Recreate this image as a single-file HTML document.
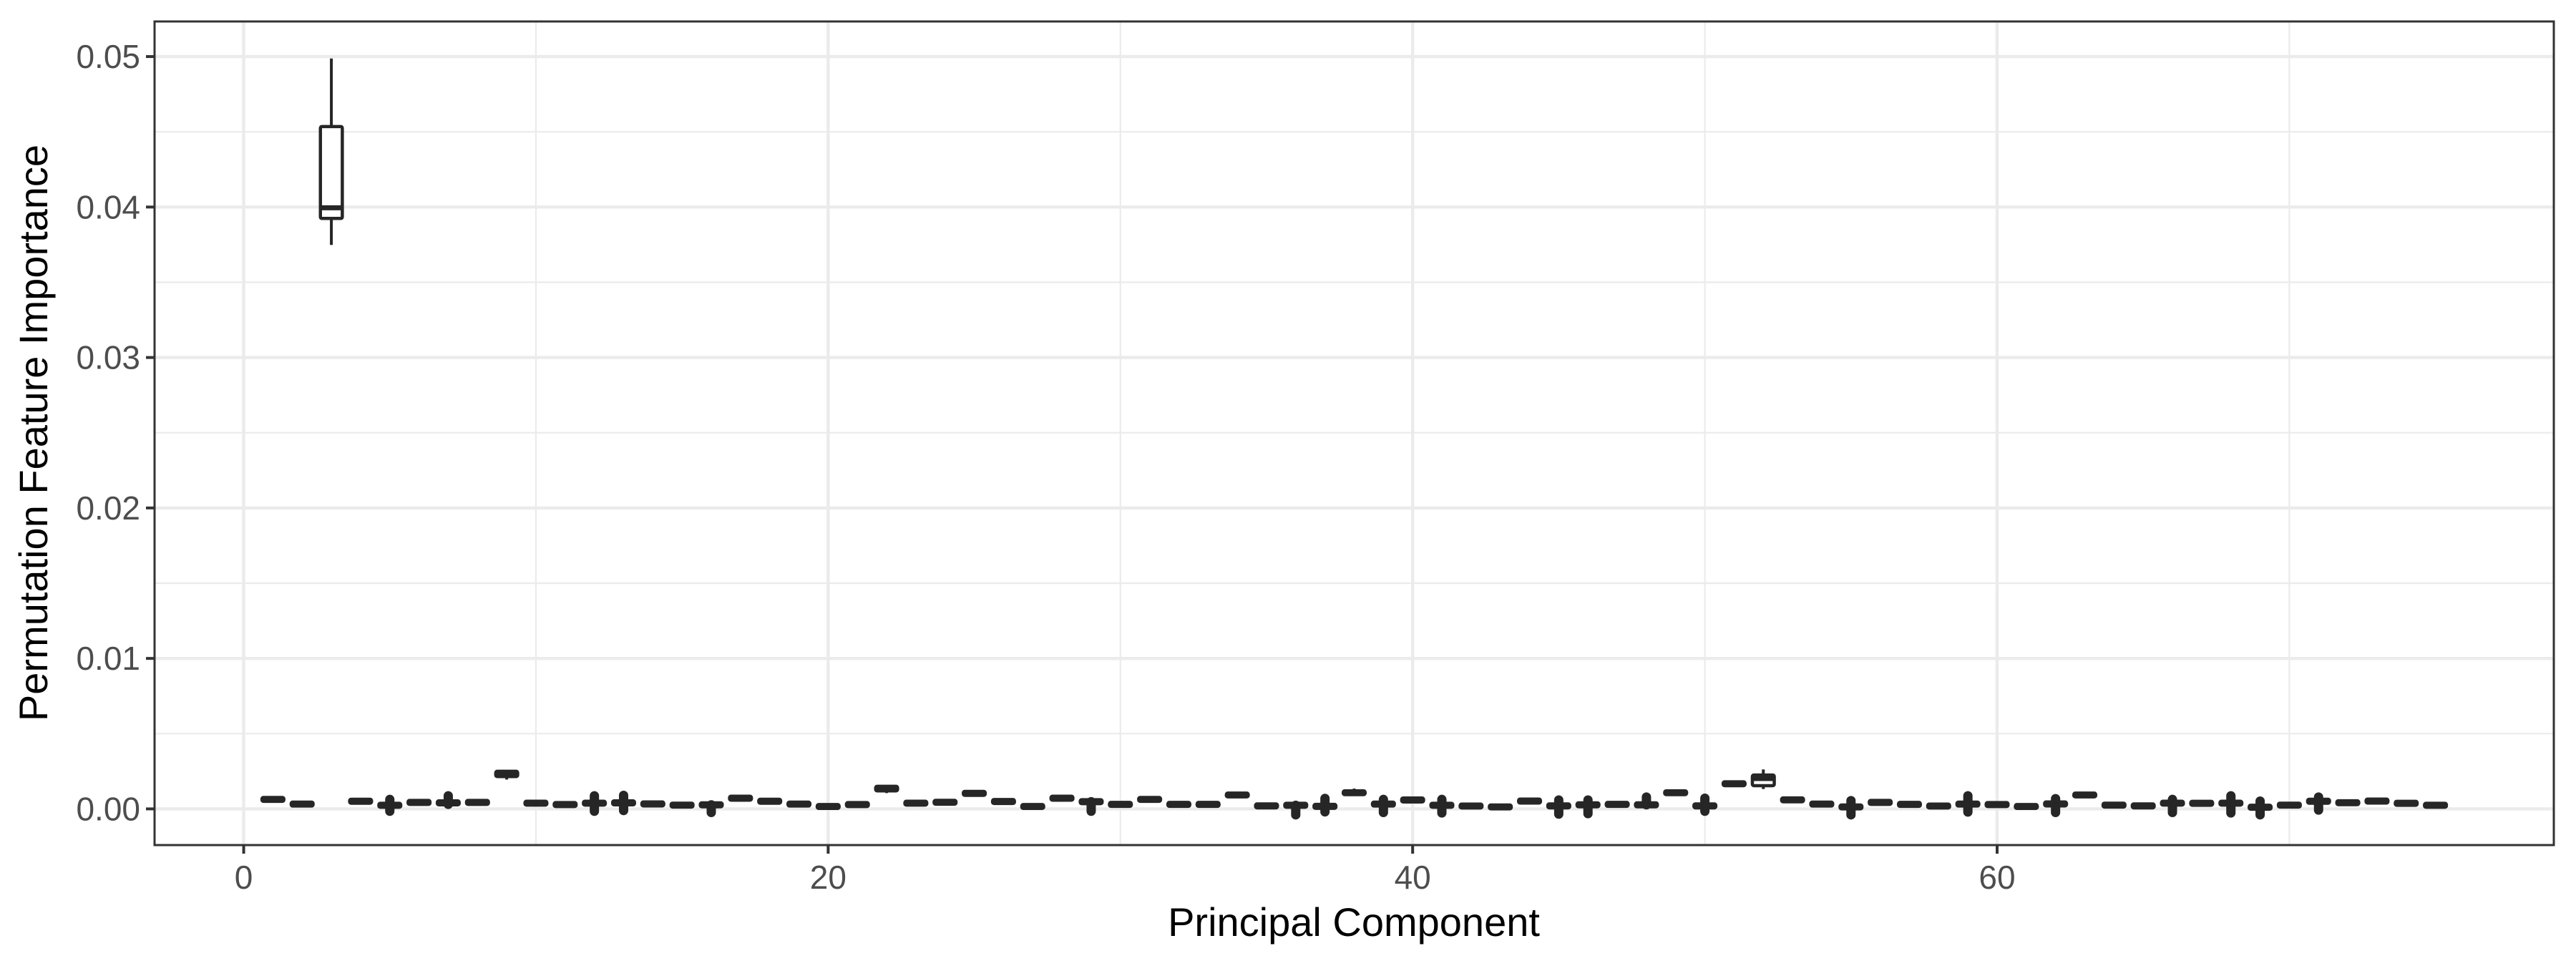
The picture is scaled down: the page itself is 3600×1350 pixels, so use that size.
<!DOCTYPE html>
<html><head><meta charset="utf-8"><style>
html,body{margin:0;padding:0;background:#fff}
svg{display:block}
text{font-family:"Liberation Sans",Arial,sans-serif}
</style></head><body>
<svg id="chart" width="3600" height="1350" viewBox="0 0 3600 1350" xmlns="http://www.w3.org/2000/svg">
<rect x="0" y="0" width="3600" height="1350" fill="#fff"/>
<g id="grid"></g>
<g id="marks"></g>
<rect x="216" y="30" width="3353" height="1151" fill="none" stroke="#333" stroke-width="3"/>
<g id="axes"></g>
<text x="1892" y="1308" font-size="56" text-anchor="middle" fill="#000">Principal Component</text>
<text transform="translate(66,605) rotate(-90)" font-size="56" text-anchor="middle" fill="#000">Permutation Feature Importance</text>
</svg>
<script>
// Medians for components 1..75 (component 3 handled by its own quartiles)
const medians = [0.00063,0.00032,0.03995,0.00051,0.00024,0.00043,0.00040,0.00043,0.00235,0.00038,
0.00029,0.00038,0.00040,0.00033,0.00025,0.00027,0.00071,0.00051,0.00032,0.00016,
0.00029,0.00133,0.00038,0.00044,0.00103,0.00049,0.00016,0.00071,0.00048,0.00030,
0.00063,0.00030,0.00030,0.00092,0.00020,0.00024,0.00017,0.00103,0.00032,0.00059,
0.00024,0.00019,0.00013,0.00052,0.00020,0.00027,0.00030,0.00027,0.00108,0.00020,
0.00167,0.00202,0.00060,0.00032,0.00013,0.00043,0.00030,0.00019,0.00032,0.00029,
0.00016,0.00033,0.00094,0.00025,0.00020,0.00038,0.00037,0.00038,0.00011,0.00025,
0.00051,0.00041,0.00052,0.00037,0.00024];
// Quartile overrides for larger boxes: [component, q1, q3, whiskerLow, whiskerHigh]
const bigBoxes = [[3,0.03924,0.04535,0.03748,0.04987],[52,0.00154,0.00225,0.00132,0.00262],[9,0.00215,0.00250,0.00195,0.00250],[22,0.00120,0.00150,0.00105,0.00150],[34,0.00080,0.00105,0.00075,0.00105],[38,0.00095,0.00120,0.00095,0.00135],[49,0.00095,0.00120,0.00090,0.00120],[63,0.00080,0.00105,0.00080,0.00105]];
// Point spreads (outliers) for components: [component, low, high]
const spreads = [[5,-0.00016,0.00063],[7,0.00030,0.00087],[12,-0.00016,0.00087],[13,-0.00011,0.00090],[16,-0.00024,0.00027],[29,-0.00016,0.00048],[36,-0.00040,0.00024],[37,-0.00020,0.00070],[39,-0.00024,0.00063],[41,-0.00027,0.00063],[45,-0.00035,0.00059],[46,-0.00032,0.00059],[48,0.00027,0.00079],[50,-0.00016,0.00071],[55,-0.00040,0.00055],[59,-0.00021,0.00087],[62,-0.00024,0.00068],[66,-0.00024,0.00063],[68,-0.00027,0.00087],[69,-0.00040,0.00052],[71,-0.00008,0.00079]];
const xTicks = [0,20,40,60];
const xTickLabels = ["0","20","40","60"];
const yTicks = [0,0.01,0.02,0.03,0.04,0.05];
const yTickLabels = ["0.00","0.01","0.02","0.03","0.04","0.05"];

const NS="http://www.w3.org/2000/svg";
const X0=216,X1=3569,Y0=30,Y1=1181;
const xMin=-3.05,xMax=79.05,yMin=-0.002405,yMax=0.052333;
function xs(v){return X0+(v-xMin)/(xMax-xMin)*(X1-X0);}
function ys(v){return Y1-(v-yMin)/(yMax-yMin)*(Y1-Y0);}
function mk(tag,attrs,parent){const e=document.createElementNS(NS,tag);for(const k in attrs)e.setAttribute(k,attrs[k]);parent.appendChild(e);return e;}
const grid=document.getElementById('grid'),marks=document.getElementById('marks'),axes=document.getElementById('axes');
// minor grid
for(let i=0;i<yTicks.length;i++){const v=yTicks[i]+0.005;if(v<yMax){const l=mk('line',{x1:X0,x2:X1,y1:ys(v),y2:ys(v),stroke:'#ebebeb','stroke-width':2.2},grid);

}}
for(let i=0;i<xTicks.length;i++){const v=xTicks[i]+10;if(v<xMax){const l=mk('line',{x1:xs(v),x2:xs(v),y1:Y0,y2:Y1,stroke:'#ebebeb','stroke-width':2.2},grid);

}}
// major grid + ticks + labels
yTicks.forEach((v,i)=>{const y=ys(v);
const g=mk('line',{x1:X0,x2:X1,y1:y,y2:y,stroke:'#ebebeb','stroke-width':4.4},grid);


const t=mk('line',{x1:X0-12,x2:X0,y1:y,y2:y,stroke:'#333','stroke-width':4},axes);


const tx=mk('text',{x:X0-20,y:y+16,'font-size':46,'text-anchor':'end',fill:'#4d4d4d'},axes);tx.textContent=yTickLabels[i];

});
xTicks.forEach((v,i)=>{const x=xs(v);
const g=mk('line',{x1:x,x2:x,y1:Y0,y2:Y1,stroke:'#ebebeb','stroke-width':4.4},grid);


const t=mk('line',{x1:x,x2:x,y1:Y1,y2:Y1+12,stroke:'#333','stroke-width':4},axes);


const tx=mk('text',{x:x,y:1242,'font-size':46,'text-anchor':'middle',fill:'#4d4d4d'},axes);tx.textContent=xTickLabels[i];

});
// boxes
const half=15.3;
medians.forEach((m,i)=>{const c=i+1;const x=xs(c);
let q1=m-0.00013,q3=m+0.00013,wl=q1,wh=q3;
const b=bigBoxes.find(r=>r[0]===c);if(b){q1=b[1];q3=b[2];wl=b[3];wh=b[4];}
const g=mk('g',{},marks);


const s=spreads.find(r=>r[0]===c);
if(s){const p=mk('line',{x1:x,x2:x,y1:ys(s[1]),y2:ys(s[2]),stroke:'#262626','stroke-width':13,'stroke-linecap':'round'},g);

}
if(wh>q3){const w=mk('line',{x1:x,x2:x,y1:ys(q3),y2:ys(wh),stroke:'#262626','stroke-width':4},g);

}
if(wl<q1){const w=mk('line',{x1:x,x2:x,y1:ys(q1),y2:ys(wl),stroke:'#262626','stroke-width':4},g);

}
const r=mk('rect',{x:x-half,y:ys(q3),width:2*half,height:Math.max(ys(q1)-ys(q3),0.1),fill:'#fff',stroke:'#262626','stroke-width':4.5,rx:2},g);


const md=mk('line',{x1:x-half,x2:x+half,y1:ys(m),y2:ys(m),stroke:'#262626','stroke-width':7},g);


});
</script>
</body></html>
